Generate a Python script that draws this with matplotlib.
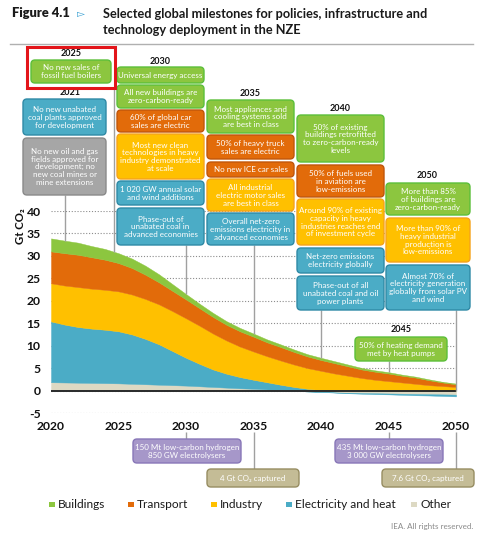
import numpy as np
import matplotlib
matplotlib.use('Agg')
import matplotlib.pyplot as plt
from matplotlib.patches import FancyBboxPatch, Rectangle
from matplotlib import font_manager

plt.rcParams['axes.unicode_minus'] = False

# ---------------- data ----------------
years = list(range(2020, 2051))
other = [1.85, 1.8, 1.75, 1.7, 1.65, 1.6, 1.5, 1.4, 1.3, 1.2, 1.1,
         0.95, 0.8, 0.65, 0.5, 0.4, 0.25, 0.1, -0.05, -0.2, -0.3,
         -0.4, -0.5, -0.55, -0.6, -0.65, -0.7, -0.75, -0.8, -0.85, -0.9]
electricity = [13.55, 12.9, 12.4, 12.1, 11.9, 11.6, 11.0, 10.1, 9.0, 7.6, 6.2,
               5.0, 3.9, 3.1, 2.5, 2.0, 1.6, 1.2, 0.8, 0.4, 0.1,
               -0.05, -0.1, -0.15, -0.2, -0.2, -0.25, -0.3, -0.3, -0.35, -0.4]
industry = [8.5, 8.7, 8.9, 8.9, 8.9, 8.9, 8.9, 8.9, 8.9, 8.9, 8.8,
            8.5, 8.0, 7.4, 6.8, 6.3, 5.8, 5.4, 5.0, 4.6, 4.3,
            3.8, 3.3, 2.8, 2.4, 2.1, 1.8, 1.5, 1.2, 1.0, 0.8]
transport = [7.1, 7.2, 7.2, 7.0, 6.7, 6.3, 5.9, 5.4, 4.9, 4.5, 4.2,
             3.9, 3.7, 3.5, 3.4, 3.3, 3.1, 3.0, 2.8, 2.6, 2.4,
             2.3, 2.1, 1.9, 1.8, 1.7, 1.5, 1.4, 1.1, 0.8, 0.6]
buildings = [2.9, 2.8, 2.7, 2.5, 2.4, 2.2, 2.1, 2.0, 1.8, 1.5, 1.2,
             1.0, 0.9, 0.8, 0.75, 0.7, 0.65, 0.6, 0.55, 0.5, 0.5,
             0.45, 0.4, 0.35, 0.3, 0.3, 0.25, 0.2, 0.2, 0.15, 0.15]

series_names = ['Buildings', 'Transport', 'Industry', 'Electricity and heat', 'Other']
yticks = [-5, 0, 5, 10, 15, 20, 25, 30, 35, 40]
xticks = [2020, 2025, 2030, 2035, 2040, 2045, 2050]

title_tag = 'Figure 4.1'
title_text = 'Selected global milestones for policies, infrastructure and\ntechnology deployment in the NZE'
ylabel = 'Gt CO₂'
credit = 'IEA. All rights reserved.'

m2025 = ['No new sales of\nfossil fuel boilers']
m2021 = ['No new unabated\ncoal plants approved\nfor development',
         'No new oil and gas\nfields approved for\ndevelopment; no\nnew coal mines or\nmine extensions']
m2030 = ['Universal energy access',
         'All new buildings are\nzero-carbon-ready',
         '60% of global car\nsales are electric',
         'Most new clean\ntechnologies in heavy\nindustry demonstrated\nat scale',
         '1 020 GW annual solar\nand wind additions',
         'Phase-out of\nunabated coal in\nadvanced economies']
m2035 = ['Most appliances and\ncooling systems sold\nare best in class',
         '50% of heavy truck\nsales are electric',
         'No new ICE car sales',
         'All industrial\nelectric motor sales\nare best in class',
         'Overall net-zero\nemissions electricity in\nadvanced economies']
m2040 = ['50% of existing\nbuildings retrofitted\nto zero-carbon-ready\nlevels',
         '50% of fuels used\nin aviation are\nlow-emissions',
         'Around 90% of existing\ncapacity in heavy\nindustries reaches end\nof investment cycle',
         'Net-zero emissions\nelectricity globally',
         'Phase-out of all\nunabated coal and oil\npower plants']
m2045 = ['50% of heating demand\nmet by heat pumps']
m2050 = ['More than 85%\nof buildings are\nzero-carbon-ready',
         'More than 90% of\nheavy industrial\nproduction is\nlow-emissions',
         'Almost 70% of\nelectricity generation\nglobally from solar PV\nand wind']
bottom_texts = ['150 Mt low-carbon hydrogen\n850 GW electrolysers',
                '4 Gt CO₂ captured',
                '435 Mt low-carbon hydrogen\n3 000 GW electrolysers',
                '7.6 Gt CO₂ captured']

# ---------------- styles ----------------
area_col = {'Buildings': '#8cc63f', 'Transport': '#e26b0a', 'Industry': '#ffc000',
            'Electricity and heat': '#4bacc6', 'Other': '#ddd9c3'}
box_style = {'b': ('#8cc63f', '#5cbf3a'), 't': ('#e26b0a', '#c0560a'),
             'i': ('#ffc000', '#f5a31a'), 'e': ('#4bacc6', '#2f8aa6'),
             'g': ('#a6a6a6', '#8a8a8a'), 'p': ('#a697c9', '#8877b8'),
             'k': ('#c4bc96', '#978d62')}

fn = {f.name for f in font_manager.fontManager.ttflist}
NARROW = 'Liberation Sans Narrow' if 'Liberation Sans Narrow' in fn else 'Lato'
BOXFS = 6.7 if NARROW == 'Liberation Sans Narrow' else 5.8
MAIN = 'Lato' if 'Lato' in fn else 'DejaVu Sans'

W, H = 490, 537
fig = plt.figure(figsize=(W / 100, H / 100), dpi=100)
fig.patch.set_facecolor('white')

# ---------------- chart axes ----------------
ax = fig.add_axes([51 / W, 1 - 413 / H, (456 - 51) / W, (413 - 211) / H])
ax.set_xlim(2020, 2050)
ax.set_ylim(-5, 40)
for s in ax.spines.values():
    s.set_visible(False)
ax.set_yticks(yticks)
ax.set_xticks(xticks)
ax.yaxis.grid(True, linestyle=(0, (1, 1.6)), color='#8c8c8c', lw=0.8)
ax.xaxis.grid(False)
ax.set_axisbelow(True)
ax.tick_params(length=0)
ax.tick_params(axis='y', pad=7.5)
ax.tick_params(axis='x', pad=6)
for lab in ax.get_xticklabels() + ax.get_yticklabels():
    lab.set_fontfamily([MAIN, 'DejaVu Sans'])
    lab.set_fontweight('bold')
    lab.set_fontsize(8.7)
    lab.set_color('#111111')

stack_order = [('Other', other), ('Electricity and heat', electricity),
               ('Industry', industry), ('Transport', transport), ('Buildings', buildings)]
pos_base = np.zeros(len(years))
neg_base = np.zeros(len(years))
for name, vals in stack_order:
    v = np.array(vals, dtype=float)
    p = np.clip(v, 0, None)
    n = np.clip(v, None, 0)
    c = area_col[name]
    ax.fill_between(years, pos_base, pos_base + p, color=c, lw=0.3, edgecolor=c, zorder=2)
    if (n < 0).any():
        ax.fill_between(years, neg_base + n, neg_base, color=c, lw=0.3, edgecolor=c, zorder=2)
    pos_base = pos_base + p
    neg_base = neg_base + n
total_top = pos_base.copy()
ax.axhline(0, color='#2a2a2a', lw=1.4, zorder=3)

# ---------------- overlay (pixel coords) ----------------
ov = fig.add_axes([0, 0, 1, 1])
ov.set_xlim(0, W)
ov.set_ylim(H, 0)
ov.axis('off')
ov.patch.set_alpha(0)


def year_x(yr):
    return ax.transData.transform((yr, 0))[0]


def val_y(val):
    return H - ax.transData.transform((2020, val))[1]


def top_at(yr):
    return val_y(np.interp(yr, years, total_top))


def box(x0, y0, x1, y1, text, st, fs=None):
    fc, ec = box_style[st]
    ov.add_patch(FancyBboxPatch((x0, y0), x1 - x0, y1 - y0,
                                boxstyle='round,pad=0,rounding_size=4',
                                fc=fc, ec=ec, lw=1.0, zorder=5))
    ov.text((x0 + x1) / 2, (y0 + y1) / 2 + 0.3, text, ha='center', va='center',
            color='white', fontsize=fs or BOXFS, family=[NARROW, 'DejaVu Sans'],
            linespacing=1.12, zorder=6)


def ylab(x, y, t):
    ov.text(x, y, t, ha='center', va='center', fontsize=6.5, fontweight='bold',
            family=[MAIN, 'DejaVu Sans'], color='#111111', zorder=6)


def conn(x, y0, y1):
    ov.plot([x, x], [y0, y1], color='#a0a0a0', lw=1.0, zorder=4, solid_capstyle='butt')


# title
ov.text(12, 13, title_tag, ha='left', va='center', fontsize=9.3, fontweight='heavy',
        family=[MAIN, 'DejaVu Sans'], color='#1a1a1a')
ov.text(77, 13.5, '▻', ha='left', va='center', fontsize=7.5, family=['DejaVu Sans'],
        color='#2e9bd0')
ov.text(103, 21.5, title_text, ha='left', va='center', fontsize=9.2, fontweight='bold',
        family=[MAIN, 'DejaVu Sans'], color='#1a1a1a', linespacing=1.4)
ov.plot([10, 473], [43.5, 43.5], color='#b0b0b0', lw=1.0)

# y label
ov.text(20, 226, ylabel, rotation=90, ha='center', va='center', fontsize=8.2,
        fontweight='bold', family=[MAIN, 'DejaVu Sans'], color='#111111')

# connectors to the curve
conn(year_x(2021), 195, top_at(2021))
x25 = 114
conn(x25, 88, top_at(2020 + (x25 - year_x(2020)) / (year_x(2021) - year_x(2020))))
conn(year_x(2030), 245, top_at(2030))
conn(year_x(2035), 245, top_at(2035))
conn(year_x(2040), 310, top_at(2040))
conn(year_x(2045), 361, top_at(2045))
conn(year_x(2050), 310, val_y(0))
conn(year_x(2030), 432, 439)
conn(year_x(2035), 432, 469)
conn(year_x(2045), 432, 439)
conn(year_x(2050), 432, 469)

# 2025 (highlighted)
ov.add_patch(Rectangle((27, 47), 88, 41, fill=False, ec='#e3151a', lw=2.2, zorder=7))
ylab(71, 54, '2025')
box(31, 60, 111, 83, m2025[0], 'b')

# 2021
ylab(70, 92.5, '2021')
box(23, 99, 106, 135, m2021[0], 'e')
box(23, 138, 106, 195, m2021[1], 'g')

# 2030
ylab(160, 61.5, '2030')
c30 = [(67, 83, 'b'), (85, 108, 'b'), (110, 132, 't'), (134, 179, 'i'), (181, 205, 'e'), (208, 245, 'e')]
for (y0, y1, st), t in zip(c30, m2030):
    box(117, y0, 204, y1, t, st)

# 2035
ylab(250, 94, '2035')
c35 = [(100, 133, 'b'), (135, 159, 't'), (162, 177, 't'), (179, 211, 'i'), (213, 245, 'e')]
for (y0, y1, st), t in zip(c35, m2035):
    box(207, y0, 294, y1, t, st)

# 2040
ylab(340, 108.5, '2040')
c40 = [(115, 162, 'b'), (165, 197, 't'), (199, 245, 'i'), (248, 273, 'e'), (276, 310, 'e')]
for (y0, y1, st), t in zip(c40, m2040):
    box(297, y0, 384, y1, t, st)

# 2050
ylab(427, 176, '2050')
c50 = [(183, 215, 'b'), (218, 262, 'i'), (265, 310, 'e')]
for (y0, y1, st), t in zip(c50, m2050):
    box(386, y0, 470, y1, t, st)

# 2045
ylab(401, 330, '2045')
box(355, 337, 447, 361, m2045[0], 'b')

# bottom boxes
bl = [(133, 439, 241, 463, 'p'), (207, 469, 299, 487, 'k'),
      (335, 439, 443, 463, 'p'), (382, 469, 474, 487, 'k')]
for (x0, y0, x1, y1, st), t in zip(bl, bottom_texts):
    box(x0, y0, x1, y1, t, st)

# legend
leg_x = [49, 128, 211, 286, 411]
for xx, name in zip(leg_x, series_names):
    ov.add_patch(Rectangle((xx, 501.5), 5.5, 5.5, fc=area_col[name], ec='none'))
    ov.text(xx + 9, 504.5, name, ha='left', va='center', fontsize=8.6,
            family=[NARROW, 'DejaVu Sans'], color='#1a1a1a')

ov.text(473, 527, credit, ha='right', va='center', fontsize=5.8,
        family=[NARROW, 'DejaVu Sans'], color='#8a8a8a')

fig.savefig('out.png', dpi=100)
